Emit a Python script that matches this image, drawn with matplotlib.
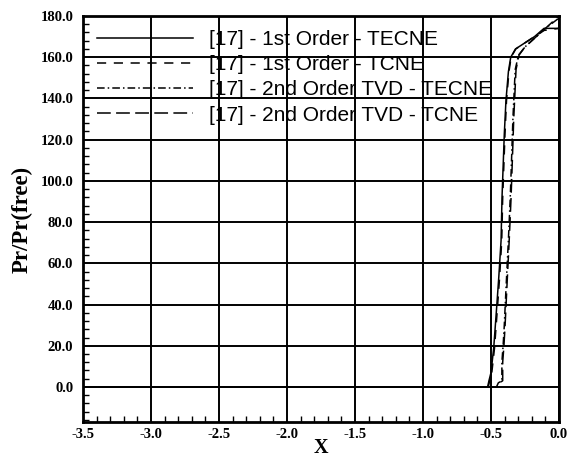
import matplotlib
matplotlib.use("Agg")
import matplotlib.pyplot as plt
from matplotlib.ticker import MultipleLocator, FormatStrFormatter

# ---- data ----
labels = ["[17] - 1st Order - TECNE",
          "[17] - 1st Order - TCNE",
          "[17] - 2nd Order TVD - TECNE",
          "[17] - 2nd Order TVD - TCNE"]

x_1st_tecne = [-3.5, -0.525, -0.515, -0.500, -0.480, -0.458, -0.443, -0.426, -0.419, -0.402, -0.390, -0.372, -0.355, -0.320, -0.250, -0.180, -0.110, 0.0]
y_1st_tecne = [0, 0, 3, 7, 19, 39, 53, 71, 92, 123, 139, 153, 160, 164, 167, 170, 174, 174]

x_1st_tcne = [-3.5, -0.520, -0.510, -0.494, -0.474, -0.452, -0.437, -0.421, -0.414, -0.397, -0.386, -0.368, -0.352, -0.318, -0.250, -0.180, -0.110, 0.0]
y_1st_tcne = [0, 0, 3, 7, 19, 39, 53, 71, 92, 123, 139, 153, 160, 164, 167, 170, 173, 174]

x_2nd_tecne = [-3.5, -0.460, -0.446, -0.420, -0.420, -0.411, -0.403, -0.388, -0.373, -0.359, -0.349, -0.339, -0.322, -0.298, -0.250, -0.200, -0.100, 0.0]
y_2nd_tecne = [0, 0, 2, 3, 12, 20, 29, 50, 70, 91, 110, 130, 154, 161, 165, 168, 174, 179]

x_2nd_tcne = [-3.5, -0.455, -0.440, -0.414, -0.414, -0.405, -0.397, -0.382, -0.367, -0.353, -0.343, -0.333, -0.316, -0.294, -0.250, -0.200, -0.100, 0.0]
y_2nd_tcne = [0, 0, 2, 3, 12, 20, 29, 50, 70, 91, 110, 130, 154, 161, 165, 168, 174, 180]

x_ticks = [-3.5, -3.0, -2.5, -2.0, -1.5, -1.0, -0.5, 0.0]
y_ticks = [0, 20, 40, 60, 80, 100, 120, 140, 160, 180]

# ---- figure ----
fig = plt.figure(figsize=(5.67, 4.59), dpi=100)
ax = fig.add_axes([83/567, 1-422/459, (559-83)/567, (422-16)/459])

ax.plot(x_1st_tecne, y_1st_tecne, color="black", lw=1.1, linestyle="-", label=labels[0])
ax.plot(x_1st_tcne, y_1st_tcne, color="black", lw=1.1, linestyle=(0, (6, 5)), label=labels[1])
ax.plot(x_2nd_tecne, y_2nd_tecne, color="black", lw=1.1, linestyle=(0, (5, 2, 1, 2)), label=labels[2])
ax.plot(x_2nd_tcne, y_2nd_tcne, color="black", lw=1.1, linestyle=(0, (9, 3.5)), label=labels[3])

ax.set_xlim(-3.5, 0.0)
ax.set_ylim(-17, 180)
ax.set_xticks(x_ticks)
ax.set_yticks(y_ticks)
ax.xaxis.set_minor_locator(MultipleLocator(0.1))
ax.yaxis.set_minor_locator(MultipleLocator(4))
ax.xaxis.set_major_formatter(FormatStrFormatter("%.1f"))
ax.yaxis.set_major_formatter(FormatStrFormatter("%.1f"))

ax.grid(True, which="major", color="black", linewidth=1.4)
ax.set_axisbelow(True)
ax.tick_params(which="both", direction="in", top=False, right=False)
ax.tick_params(axis="y", which="major", length=0, pad=7)
ax.tick_params(axis="x", which="major", length=0, pad=4)
ax.tick_params(which="minor", length=4, width=1)

for lab in ax.get_xticklabels() + ax.get_yticklabels():
    lab.set_fontfamily("Liberation Serif")
    lab.set_fontweight("bold")
    lab.set_fontsize(10.5)

for s in ax.spines.values():
    s.set_linewidth(2)

ax.set_xlabel("X", fontfamily="Liberation Serif", fontweight="bold", fontsize=14.5)
ax.xaxis.set_label_coords(0.5, -0.04)
ax.set_ylabel("Pr/Pr(free)", fontfamily="Liberation Serif", fontweight="bold", fontsize=16.5)
ax.yaxis.set_label_coords(-0.105, 0.5)

leg = ax.legend(loc="upper left", bbox_to_anchor=(0.029, 0.966), frameon=False,
                handlelength=4.6, handletextpad=0.8, labelspacing=0.3, borderpad=0,
                borderaxespad=0,
                prop={"family": "Liberation Sans", "size": 15})

fig.savefig("out.png", dpi=100)
